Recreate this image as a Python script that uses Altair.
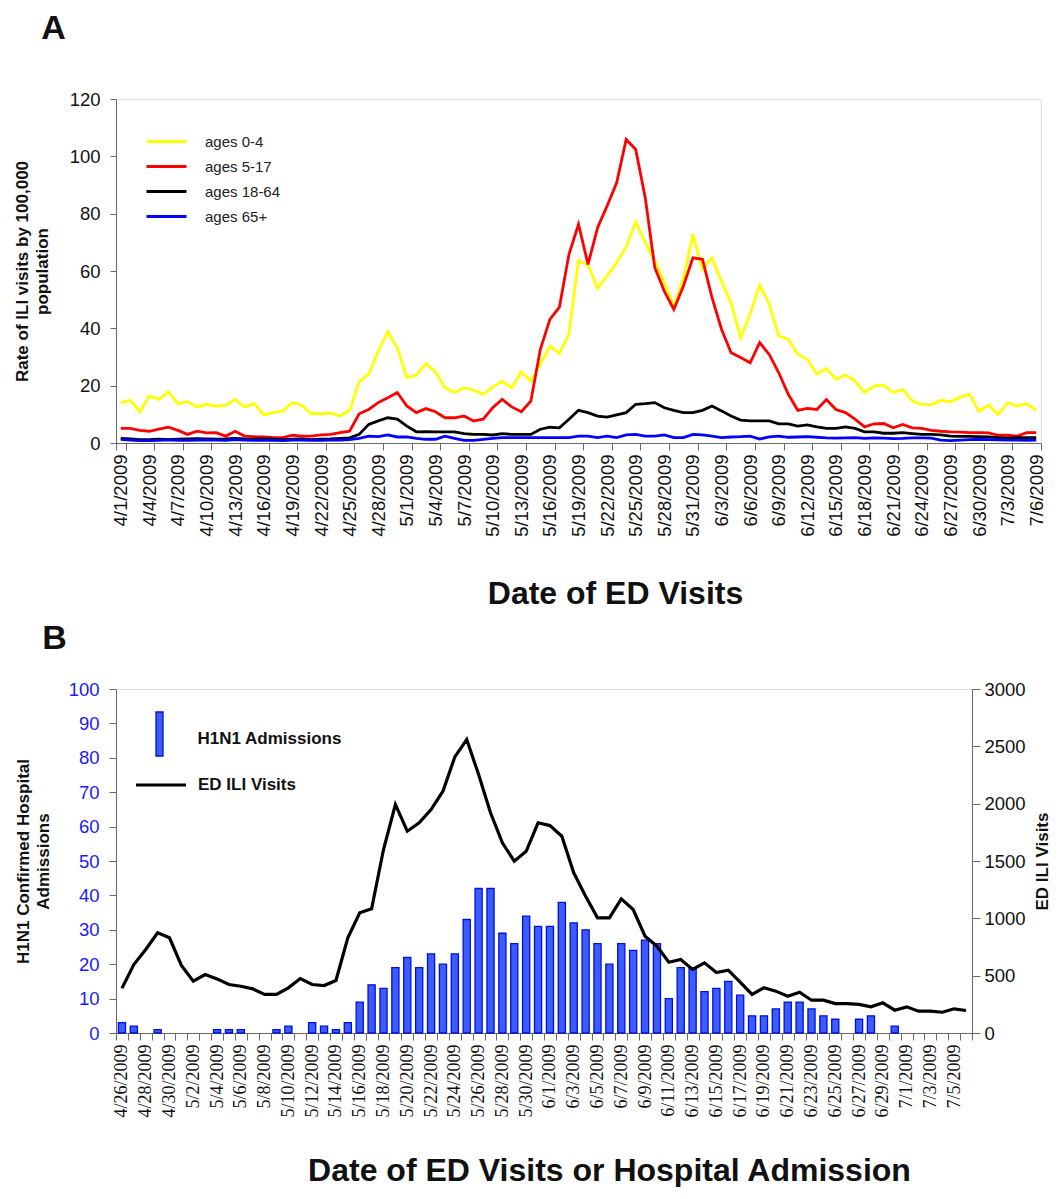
import json
import pandas as pd
import altair as alt

# ---------------- Panel A data ----------------
dates_a = [f"{d.month}/{d.day}/{d.year}" for d in pd.date_range("2009-04-01", "2009-07-06")]
series_names = ["ages 0-4", "ages 5-17", "ages 18-64", "ages 65+"]
series_colors = ["#ffff00", "#ff0000", "#000000", "#0000ff"]

ages_0_4 = [14.1, 14.9, 10.9, 16.4, 15.2, 17.8, 13.7, 14.4, 12.6, 13.5, 12.9, 13.1, 15.2, 12.6, 13.7, 9.8,
            10.6, 11.2, 14.1, 13.1, 10.2, 10.2, 10.5, 9.4, 11.4, 21.4, 24.0, 32.1, 38.8, 33.2, 22.8, 23.7,
            27.7, 24.8, 19.3, 17.6, 19.3, 18.5, 17.0, 19.5, 21.6, 19.3, 24.8, 21.6, 27.4, 33.8, 31.2, 38.1,
            63.7, 62.1, 54.0, 58.3, 62.9, 68.4, 77.1, 69.9, 63.5, 56.0, 47.5, 57.5, 72.8, 60.6, 64.6, 56.3,
            48.9, 36.7, 45.0, 55.0, 48.5, 37.3, 36.2, 30.9, 29.2, 24.0, 26.0, 22.2, 23.7, 21.6, 17.6, 19.9,
            20.2, 17.6, 18.7, 14.6, 13.5, 13.3, 14.9, 14.4, 16.0, 17.0, 10.9, 13.3, 10.0, 14.1, 12.9, 13.7,
            11.4]
ages_5_17 = [5.1, 5.1, 4.4, 4.1, 4.8, 5.5, 4.4, 3.0, 4.1, 3.5, 3.6, 2.4, 4.1, 2.4, 2.2, 2.1,
             1.9, 1.9, 2.7, 2.4, 2.4, 2.8, 3.0, 3.6, 4.1, 10.2, 11.7, 14.1, 15.8, 17.6, 12.9, 10.6,
             12.0, 10.9, 8.8, 8.8, 9.4, 7.7, 8.3, 12.3, 15.2, 12.6, 10.9, 14.6, 32.7, 43.1, 47.4, 65.8,
             76.3, 62.3, 75.1, 82.7, 90.8, 105.9, 102.4, 85.6, 61.2, 53.0, 46.6, 54.8, 64.6, 64.1, 50.7, 39.7,
             31.5, 29.8, 28.0, 35.0, 30.9, 24.5, 17.0, 11.4, 12.1, 11.7, 15.2, 11.7, 10.6, 8.3, 5.6, 6.7,
             6.8, 5.3, 6.5, 5.3, 5.1, 4.4, 4.1, 3.9, 3.8, 3.6, 3.6, 3.5, 2.7, 2.7, 2.4, 3.6,
             3.6]
ages_18_64 = [1.6, 1.4, 1.2, 1.2, 1.3, 1.2, 1.3, 1.4, 1.5, 1.4, 1.3, 1.4, 1.6, 1.4, 1.3, 1.4,
              1.3, 1.2, 1.3, 1.4, 1.2, 1.3, 1.4, 1.6, 1.8, 3.0, 6.5, 7.7, 8.8, 8.3, 5.9, 3.9,
              4.0, 3.9, 3.9, 3.9, 3.3, 3.0, 3.0, 2.8, 3.3, 3.0, 3.0, 3.0, 4.8, 5.5, 5.3, 8.3,
              11.4, 10.6, 9.4, 9.0, 9.8, 10.6, 13.5, 13.7, 14.1, 12.3, 11.4, 10.6, 10.6, 11.4, 12.9, 11.2,
              9.4, 8.0, 7.7, 7.7, 7.7, 6.7, 6.7, 5.9, 6.3, 5.6, 5.1, 5.1, 5.6, 5.1, 3.9, 3.9,
              3.4, 3.4, 3.6, 3.3, 3.0, 3.0, 2.8, 2.4, 2.3, 2.3, 2.2, 2.1, 1.9, 1.7, 1.9, 1.9,
              1.9]
ages_65_plus = [1.3, 1.0, 0.8, 0.8, 0.9, 1.1, 0.9, 0.9, 1.0, 1.1, 1.0, 0.9, 1.2, 1.0, 0.9, 0.9,
                0.9, 0.8, 1.0, 1.0, 0.9, 0.9, 1.0, 1.0, 1.2, 1.6, 2.4, 2.2, 2.8, 2.1, 2.1, 1.6,
                1.3, 1.3, 2.4, 1.6, 0.9, 0.9, 1.3, 1.6, 1.9, 1.9, 1.9, 1.9, 1.9, 1.9, 1.9, 1.9,
                2.4, 2.4, 1.9, 2.4, 1.9, 2.8, 3.0, 2.4, 2.4, 2.8, 1.9, 1.9, 3.0, 2.8, 2.4, 1.9,
                2.1, 2.2, 2.4, 1.4, 2.1, 2.4, 2.0, 2.1, 2.2, 2.0, 1.8, 1.7, 1.8, 1.9, 1.6, 1.8,
                1.7, 1.5, 1.6, 1.8, 1.8, 1.7, 1.0, 0.8, 1.0, 1.2, 1.3, 1.2, 1.1, 1.0, 1.0, 0.9,
                1.0]

# ---------------- Panel B data ----------------
dates_b = [f"{d.month}/{d.day}/{d.year}" for d in pd.date_range("2009-04-26", "2009-07-06")]
h1n1_admissions = [3, 2, 0, 1, 0, 0, 0, 0, 1, 1, 1, 0, 0, 1, 2, 0, 3, 2, 1, 3, 9, 14, 13, 19,
                   22, 19, 23, 20, 23, 33, 42, 42, 29, 26, 34, 31, 31, 38, 32, 30, 26, 20, 26, 24,
                   27, 26, 10, 19, 19, 12, 13, 15, 11, 5, 5, 7, 9, 9, 7, 5, 4, 0, 4, 5, 0, 2,
                   0, 0, 0, 0, 0, 0]
ed_ili_visits = [390, 597, 728, 874, 830, 589, 452, 510, 472, 423, 408, 385, 336, 336, 394, 475,
                 423, 414, 458, 830, 1048, 1083, 1600, 1993, 1760, 1833, 1949, 2109, 2408, 2559,
                 2254, 1920, 1659, 1498, 1585, 1833, 1809, 1716, 1397, 1193, 1004, 1004, 1170, 1077,
                 844, 757, 617, 641, 555, 612, 528, 548, 443, 336, 394, 365, 321, 356, 286, 286,
                 257, 257, 249, 228, 263, 199, 228, 190, 190, 181, 211, 196]

y_ticks_a = [0, 20, 40, 60, 80, 100, 120]
y_ticks_b_left = [0, 10, 20, 30, 40, 50, 60, 70, 80, 90, 100]
y_ticks_b_right = [0, 500, 1000, 1500, 2000, 2500, 3000]

SANS = "Liberation Sans"
SERIF = "Liberation Serif"
AXIS_GRAY = "#6a6a6a"

# ---------------- Panel A ----------------
rows = []
for name, vals in zip(series_names, [ages_0_4, ages_5_17, ages_18_64, ages_65_plus]):
    for d, v in zip(dates_a, vals):
        rows.append({"date": d, "series": name, "rate": v})
df_a = pd.DataFrame(rows)

chart_a = alt.Chart(df_a).mark_line(strokeWidth=2.8).encode(
    x=alt.X("date:N", sort=dates_a, bandPosition=0.5,
            scale=alt.Scale(type="band", paddingInner=0, paddingOuter=0),
            axis=alt.Axis(values=dates_a[::3], tickBand="extent", labelAngle=270,
                          labelFont=SANS, labelFontSize=18.5, labelColor="#111", labelPadding=4,
                          labelOverlap=False, tickSize=7, tickColor=AXIS_GRAY, domainColor=AXIS_GRAY,
                          title="Date of ED Visits", titleFont=SANS, titleFontSize=32,
                          titleFontWeight="bold", titleColor="#111", titleX=499, titleY=150,
                          titleAlign="center", titleBaseline="middle")),
    y=alt.Y("rate:Q", scale=alt.Scale(domain=[0, 120], nice=False),
            axis=alt.Axis(values=y_ticks_a, grid=False, labelFont=SANS, labelFontSize=18.5,
                          labelColor="#111", labelPadding=10, tickSize=6, tickColor=AXIS_GRAY,
                          domainColor=AXIS_GRAY,
                          title=["Rate of ILI visits by 100,000", "population"],
                          titleFont=SANS, titleFontSize=17, titleFontWeight="bold",
                          titleColor="#111", titleLineHeight=20, titlePadding=18)),
    color=alt.Color("series:N", sort=series_names,
                    scale=alt.Scale(domain=series_names, range=series_colors),
                    legend=alt.Legend(title=None, orient="none", legendX=39, legendY=31,
                                      symbolType="M-2,0L2,0", symbolSize=400,
                                      symbolStrokeWidth=3, labelFont=SANS, labelFontSize=15,
                                      labelColor="#222", labelOffset=27, rowPadding=5,
                                      padding=0)),
).properties(
    width=925, height=344,
    title=alt.TitleParams("A", anchor="start", fontSize=34, fontWeight="bold", font=SANS,
                          color="#111", dx=28, offset=44),
)

# ---------------- Panel B ----------------
df_b = pd.DataFrame({
    "date": dates_b,
    "adm": h1n1_admissions,
    "visits": ed_ili_visits,
    "bar_key": "H1N1 Admissions",
    "line_key": "ED ILI Visits",
})

x_b = alt.X("date:N", sort=dates_b, bandPosition=0.5,
            scale=alt.Scale(type="band", paddingInner=0, paddingOuter=0),
            axis=alt.Axis(labelExpr="indexof(" + json.dumps(dates_b[::2]) + ", datum.value) >= 0 ? datum.label : ''",
                          tickBand="extent", labelAngle=270, labelFont=SERIF, labelFontSize=18,
                          labelColor="#111", labelPadding=4, labelOverlap=False, tickSize=7,
                          tickColor=AXIS_GRAY, domainColor=AXIS_GRAY,
                          title="Date of ED Visits or Hospital Admission", titleFont=SANS,
                          titleFontSize=32, titleFontWeight="bold", titleColor="#111",
                          titleX=493, titleY=137, titleAlign="center", titleBaseline="middle"))

bars = alt.Chart(df_b).transform_filter("datum.adm > 0").mark_bar(
    width=alt.RelativeBandSize(0.6), stroke="#0010d8", strokeWidth=1.3
).encode(
    x=x_b,
    y=alt.Y("adm:Q", scale=alt.Scale(domain=[0, 100], nice=False),
            axis=alt.Axis(values=y_ticks_b_left, grid=False, labelFont=SANS, labelFontSize=18.5,
                          labelColor="#1a1aff", labelPadding=10, tickSize=7, tickColor=AXIS_GRAY,
                          domainColor=AXIS_GRAY,
                          title=["H1N1 Confirmed Hospital", "Admissions"], titleFont=SANS,
                          titleFontSize=17, titleFontWeight="bold", titleColor="#111",
                          titleLineHeight=20, titlePadding=16)),
    fill=alt.Fill("bar_key:N", scale=alt.Scale(range=["#3d5cff"]),
                  legend=alt.Legend(title=None, orient="none", legendX=32.5, legendY=39,
                                    symbolType="M-0.35,-2.7L0.35,-2.7L0.35,1.7L-0.35,1.7Z",
                                    symbolSize=400, symbolStrokeColor="#0010d8",
                                    symbolStrokeWidth=1.3, labelFont=SANS, labelFontSize=17,
                                    labelFontWeight="bold", labelColor="#111", labelOffset=27,
                                    padding=0)),
)

line_b = alt.Chart(df_b).mark_line(strokeWidth=3.2).encode(
    x=x_b,
    y=alt.Y("visits:Q", scale=alt.Scale(domain=[0, 3000], nice=False),
            axis=alt.Axis(orient="right", values=y_ticks_b_right, format="d", grid=False,
                          labelFont=SANS, labelFontSize=18.5, labelColor="#111", labelPadding=4,
                          tickSize=8, tickColor=AXIS_GRAY, domainColor=AXIS_GRAY,
                          title="ED ILI Visits", titleFont=SANS, titleFontSize=17,
                          titleFontWeight="bold", titleColor="#111", titleAngle=270,
                          titlePadding=26)),
    stroke=alt.Stroke("line_key:N", scale=alt.Scale(range=["#000000"]),
                      legend=alt.Legend(title=None, orient="none", legendX=33, legendY=84,
                                        symbolType="M-2.5,0L2.5,0", symbolSize=400,
                                        symbolStrokeWidth=3.2, labelFont=SANS, labelFontSize=17,
                                        labelFontWeight="bold", labelColor="#111", labelOffset=25,
                                        padding=0)),
)

chart_b = alt.layer(bars, line_b).resolve_scale(y="independent").properties(
    width=856, height=344,
    title=alt.TitleParams("B", anchor="start", fontSize=34, fontWeight="bold", font=SANS,
                          color="#111", dx=28, offset=24),
)

chart = alt.vconcat(chart_a, chart_b, spacing=11).resolve_legend(
    color="independent", fill="independent", stroke="independent"
).properties(
    padding={"left": 4, "top": 3, "right": 0, "bottom": 0}
).configure_view(
    fill="#b3b3b3", stroke="#808080", strokeWidth=1
).configure(background="white")

chart.save("out.html", embed_options={"renderer": "svg", "actions": False})
